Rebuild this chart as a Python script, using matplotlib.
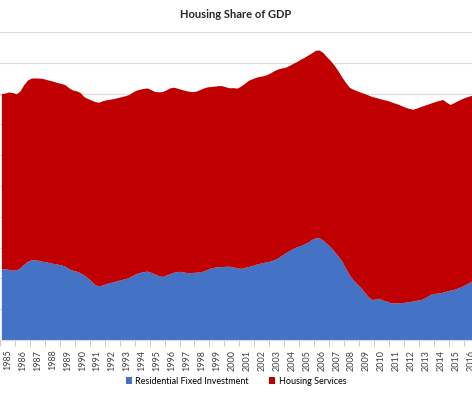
import matplotlib
matplotlib.use("Agg")
import matplotlib.pyplot as plt
import numpy as np

# quarterly share of GDP (%), 1985Q1 .. 2016Q3
residential_fixed_investment = [
    4.60, 4.60, 4.55, 4.50,  4.53, 4.65, 4.90, 5.08,  5.17, 5.18, 5.14, 5.08,
    5.04, 4.98, 4.93, 4.90,  4.84, 4.76, 4.60, 4.50,  4.43, 4.34, 4.20, 4.02,
    3.80, 3.58, 3.46, 3.55,  3.62, 3.70, 3.75, 3.83,  3.88, 3.95, 4.02, 4.15,
    4.28, 4.36, 4.40, 4.44,  4.36, 4.25, 4.15, 4.09,  4.18, 4.27, 4.36, 4.42,
    4.42, 4.37, 4.33, 4.35,  4.37, 4.40, 4.44, 4.55,  4.64, 4.70, 4.72, 4.74,
    4.75, 4.76, 4.72, 4.65,  4.62, 4.68, 4.74, 4.80,  4.88, 4.94, 5.00, 5.04,
    5.10, 5.20, 5.31, 5.48,  5.64, 5.78, 5.92, 6.03,  6.10, 6.22, 6.33, 6.50,
    6.60, 6.60, 6.45, 6.22,  6.00, 5.72, 5.42, 5.10,  4.65, 4.20, 3.90, 3.62,
    3.40, 3.10, 2.80, 2.60,  2.62, 2.68, 2.55, 2.50,  2.38, 2.38, 2.38, 2.40,
    2.42, 2.46, 2.50, 2.55,  2.58, 2.68, 2.82, 2.96,  3.00, 3.02, 3.07, 3.14,
    3.20, 3.26, 3.34, 3.44,  3.56, 3.70, 3.82,
]
housing_services = [
    11.37, 11.40, 11.52, 11.53,  11.42, 11.50, 11.65, 11.77,  11.80, 11.80, 11.83, 11.87,
    11.84, 11.84, 11.82, 11.78,  11.78, 11.79, 11.75, 11.70,  11.72, 11.71, 11.58, 11.63,
    11.75, 11.87, 11.94, 11.95,  11.94, 11.90, 11.89, 11.87,  11.88, 11.87, 11.88, 11.90,
    11.90, 11.89, 11.90, 11.89,  11.86, 11.85, 11.93, 12.00,  12.02, 12.06, 12.02, 11.90,
    11.82, 11.81, 11.79, 11.74,  11.75, 11.82, 11.88, 11.85,  11.78, 11.75, 11.76, 11.74,
    11.65, 11.58, 11.63, 11.67,  11.83, 11.94, 12.08, 12.12,  12.14, 12.14, 12.12, 12.16,
    12.22, 12.27, 12.26, 12.15,  12.04, 12.02, 12.01, 12.02,  12.10, 12.10, 12.14, 12.12,
    12.18, 12.19, 12.17, 12.13,  12.10, 12.08, 12.03, 11.95,  12.05, 12.18, 12.35, 12.53,
    12.66, 12.87, 13.08, 13.18,  13.10, 12.97, 13.03, 13.03,  13.07, 12.98, 12.90, 12.78,
    12.66, 12.54, 12.45, 12.47,  12.54, 12.52, 12.46, 12.41,  12.45, 12.50, 12.51, 12.26,
    12.06, 12.12, 12.16, 12.18,  12.16, 12.10, 12.05,
]
years = list(range(1985, 2017))

rfi = np.array(residential_fixed_investment)
hs = np.array(housing_services)
t = 1985 + np.arange(len(rfi)) / 4 + 0.125

fig = plt.figure(figsize=(4.72, 3.94), dpi=100)
ax = fig.add_axes([0, 0.137, 1, 0.782])

ax.stackplot(t, rfi, hs, colors=["#4472C4", "#C00000"], linewidth=0,
             labels=["Residential Fixed Investment", "Housing Services"])

ax.set_xlim(1985.23, 2016.55)
ax.set_ylim(0, 20)
ax.set_yticks(np.arange(0, 21, 2))
ax.yaxis.grid(True, color="#d9d9d9", linewidth=0.8)
ax.set_axisbelow(True)
ax.tick_params(axis="y", left=False, labelleft=False)

ax.set_xticks(years, minor=True)
ax.set_xticks([y + 0.5 for y in years])
ax.set_xticklabels([str(y) for y in years], rotation=90,
                   fontsize=6.5, family="Lato", color="#404040")
ax.tick_params(axis="x", which="major", length=0, pad=7)
ax.tick_params(axis="x", which="minor", length=4, color="#bfbfbf")

for s in ["left", "right", "top"]:
    ax.spines[s].set_visible(False)
ax.spines["bottom"].set_color("#d9d9d9")

fig.text(0.5, 1 - 14 / 394, "Housing Share of GDP", ha="center", va="center",
         fontsize=8, fontweight="bold", family="Lato", color="#262626")

fig.legend(loc="center", bbox_to_anchor=(0.5, 1 - 381 / 394), ncol=2,
           frameon=False, handlelength=0.7, handleheight=0.7,
           handletextpad=0.4, columnspacing=2.2,
           prop={"family": "Lato", "size": 6.5})

fig.savefig("out.png", dpi=100)
